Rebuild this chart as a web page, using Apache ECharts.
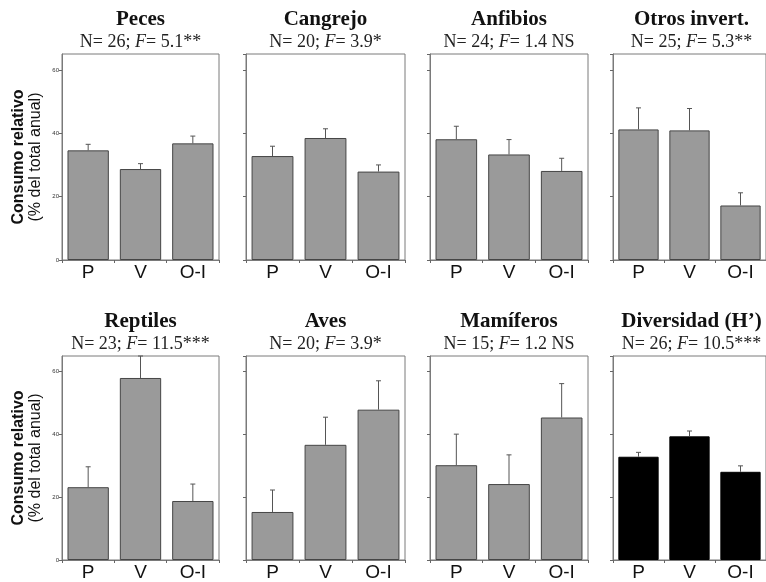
<!DOCTYPE html>
<html>
<head>
<meta charset="utf-8">
<script src="https://cdn.jsdelivr.net/npm/echarts@6/dist/echarts.min.js"></script>
<style>html,body{margin:0;padding:0;background:#fff}#c{width:766px;height:582px}</style>
</head>
<body>
<div id="c"></div>
<script>
// ---- data ----
var categories = ['P', 'V', 'O-I'];
var yTicks = [0, 20, 40, 60];

var panelTitles = ['Peces', 'Cangrejo', 'Anfibios', 'Otros invert.', 'Reptiles', 'Aves', 'Mamíferos', 'Diversidad (H’)'];
var panelN = [26, 20, 24, 25, 23, 20, 15, 26];
var panelF = ['5.1', '3.9', '1.4', '5.3', '11.5', '3.9', '1.2', '10.5'];
var panelSig = ['**', '*', ' NS', '**', '***', '*', ' NS', '***'];

var meanPeces = [34.6, 28.7, 36.8];      var upperPeces = [36.5, 30.4, 39.1];
var meanCangrejo = [32.8, 38.5, 27.9];   var upperCangrejo = [35.9, 41.4, 30.0];
var meanAnfibios = [38.1, 33.3, 28.1];   var upperAnfibios = [42.2, 38.0, 32.1];
var meanOtros = [41.2, 40.9, 17.2];      var upperOtros = [48.0, 47.8, 21.2];
var meanReptiles = [23.2, 58.0, 18.8];   var upperReptiles = [29.7, 65.0, 24.2];
var meanAves = [15.3, 36.7, 47.9];       var upperAves = [22.3, 45.5, 57.1];
var meanMamiferos = [30.2, 24.2, 45.4];  var upperMamiferos = [40.1, 33.5, 56.2];
var meanDiversidad = [32.9, 39.4, 28.1]; var upperDiversidad = [34.3, 41.1, 30.0];

var means = [meanPeces, meanCangrejo, meanAnfibios, meanOtros, meanReptiles, meanAves, meanMamiferos, meanDiversidad];
var uppers = [upperPeces, upperCangrejo, upperAnfibios, upperOtros, upperReptiles, upperAves, upperMamiferos, upperDiversidad];

// ---- layout ----
var colLeft = [62, 246, 430, 613];
var colWidth = [157, 159, 158, 157];
var rowTop = [54, 356];
var rowHeight = [206, 207];
var titleTop = [9, 311];

var serif = 'Liberation Serif';
var sans = 'Liberation Sans';

var grids = [], xAxes = [], yAxes = [], series = [], titles = [];
for (var i = 0; i < 8; i++) {
  var r = Math.floor(i / 4), c = i % 4;
  grids.push({left: colLeft[c], top: rowTop[r], width: colWidth[c], height: rowHeight[r],
    show: true, borderColor: '#7a7a7a', borderWidth: 1, containLabel: false});
  xAxes.push({type: 'category', gridIndex: i, data: categories,
    axisLine: {lineStyle: {color: '#7a7a7a', width: 1}},
    axisTick: {show: true, alignWithLabel: false, length: 3, interval: 0, lineStyle: {color: '#666'}},
    axisLabel: {fontFamily: sans, fontSize: 19, color: '#111', margin: 3, interval: 0}
  });
  var ya = {type: 'value', gridIndex: i, min: 0, max: 65, interval: 20,
    axisLine: {show: true, lineStyle: {color: '#7a7a7a', width: 1}},
    axisTick: {show: true, length: 3, lineStyle: {color: '#666'}},
    splitLine: {show: false},
    axisLabel: {show: c === 0, fontFamily: sans, fontSize: 6, color: '#333', margin: 3, showMaxLabel: false}
  };
  if (c === 0) {
    ya.name = '{a|Consumo relativo}\n{b|(% del total anual)}';
    ya.nameLocation = 'middle';
    ya.nameGap = 18;
    ya.nameTextStyle = {rich: {
      a: {fontFamily: sans, fontWeight: 'bold', fontSize: 16, color: '#111', lineHeight: 17},
      b: {fontFamily: sans, fontSize: 16, color: '#111', lineHeight: 17}
    }};
  }
  yAxes.push(ya);

  var black = (i === 7);
  series.push({type: 'bar', xAxisIndex: i, yAxisIndex: i, data: means[i], barWidth: '79%',
    itemStyle: {color: black ? '#000' : '#9a9a9a', borderColor: black ? '#000' : '#454545', borderWidth: 1},
    silent: true, animation: false});
  var errData = [];
  for (var k = 0; k < categories.length; k++) errData.push([k, means[i][k], uppers[i][k]]);
  series.push({type: 'custom', xAxisIndex: i, yAxisIndex: i, data: errData, silent: true, animation: false, z: 3,
    renderItem: function (params, api) {
      var x = api.value(0);
      var base = api.coord([x, api.value(1)]);
      var top = api.coord([x, api.value(2)]);
      var hw = 2.5;
      return {type: 'group', children: [
        {type: 'line', shape: {x1: base[0], y1: base[1], x2: top[0], y2: top[1]}, style: {stroke: '#555', lineWidth: 1}},
        {type: 'line', shape: {x1: top[0] - hw, y1: top[1], x2: top[0] + hw, y2: top[1]}, style: {stroke: '#555', lineWidth: 1}}
      ]};
    }
  });

  titles.push({
    text: panelTitles[i],
    subtext: '{n|N= ' + panelN[i] + '; }{f|F}{n|= ' + panelF[i] + panelSig[i] + '}',
    left: colLeft[c] + colWidth[c] / 2, top: titleTop[r], textAlign: 'center', padding: 0, itemGap: 3,
    textStyle: {fontFamily: serif, fontWeight: 'bold', fontSize: 21, color: '#111'},
    subtextStyle: {fontFamily: serif, fontSize: 18, color: '#222', rich: {
      n: {fontFamily: serif, fontSize: 18, color: '#222'},
      f: {fontFamily: serif, fontSize: 18, fontStyle: 'italic', color: '#222'}
    }}
  });
}

var chart = echarts.init(document.getElementById('c'), null, {renderer: 'canvas'});
chart.setOption({backgroundColor: '#fff', animation: false, title: titles, grid: grids, xAxis: xAxes, yAxis: yAxes, series: series});
</script>
</body>
</html>
